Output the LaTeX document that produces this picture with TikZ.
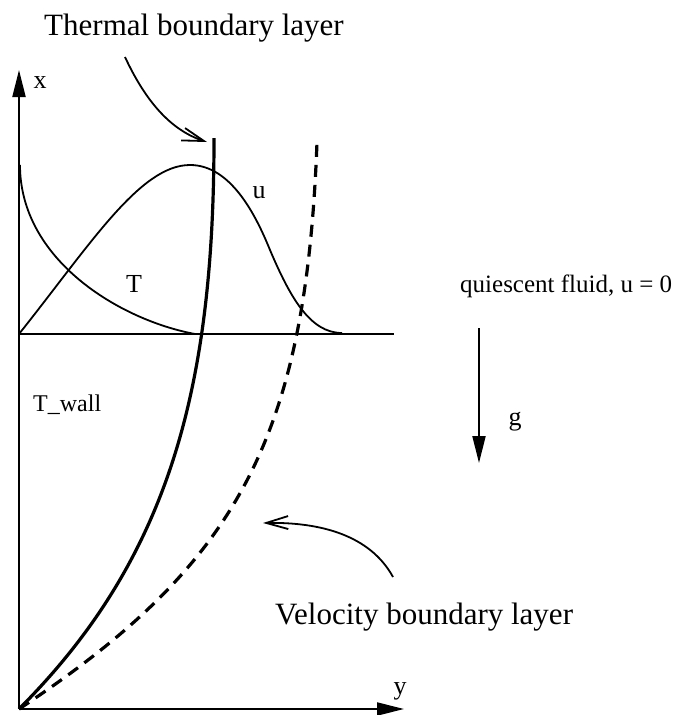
\documentclass[tikz,border=0pt]{standalone}
\usepackage{fontspec}
\setmainfont{Liberation Serif}
\usetikzlibrary{arrows.meta}
\begin{document}
\begin{tikzpicture}[x=1pt,y=-1pt,
  axis/.style={line width=2pt,-{Triangle[length=27pt,width=13pt]}},
  thin curve/.style={line width=1.8pt},
  layer/.style={line width=3.2pt},
  pointer/.style={line width=1.8pt,-{Straight Barb[length=22pt,width=13pt]}},
  big/.style={font=\fontsize{31}{37}\selectfont,inner sep=0pt},
  lab/.style={font=\fontsize{26}{31}\selectfont,inner sep=0pt}]
\useasboundingbox (0,0) rectangle (676,715);
% coordinates
\coordinate (O) at (19,709);
\coordinate (xtip) at (19,70);
\coordinate (ytip) at (404,709);
\coordinate (hl) at (19,334);
\coordinate (hr) at (394,334);
\coordinate (gtop) at (479,328);
\coordinate (gtip) at (479,463);
\coordinate (tbs) at (125,57);
\coordinate (tbe) at (207,142);
\coordinate (vbs) at (393,577);
\coordinate (vbe) at (263,523);
\coordinate (ttop) at (214,138);
\coordinate (vtop) at (317,142);
% axes
\draw[axis] (O) -- (xtip);
\draw[axis] (O) -- (ytip);
\draw[line width=2pt] (hl) -- (hr);
\draw[axis] (gtop) -- (gtip);
% T profile
\draw[thin curve] (20,165) .. controls (20,260) and (120,320) .. (195,334);
% u profile
\draw[thin curve] (19,334) .. controls (90,245) and (140,165) .. (190,165)
  .. controls (230,165) and (255,213) .. (270,250)
  .. controls (290,297) and (310,333) .. (342,333);
% thermal boundary layer
\draw[layer] (O) .. controls (169,559) and (214,388) .. (ttop);
% velocity boundary layer
\draw[layer,dash pattern=on 12pt off 8pt] (O) .. controls (235,566) and (306,442) .. (vtop);
% pointers
\draw[pointer] (tbs) .. controls (145,100) and (170,130) .. (tbe);
\draw[pointer] (vbs) .. controls (370,535) and (320,522) .. (vbe);
% labels
\node[big,anchor=base] (tbl) at (194,35) {Thermal boundary layer};
\node[big,anchor=base west] (vbl) at (275,624) {Velocity boundary layer};
\node[lab,anchor=base] (xl) at (40,88) {x};
\node[lab,anchor=base] (yl) at (400,694) {y};
\node[lab,anchor=base] (ul) at (259,198) {u};
\node[lab,anchor=base] (Tl) at (134,292) {T};
\node[lab,anchor=base] (gl) at (515,425) {g};
\node[font=\fontsize{24}{29}\selectfont,inner sep=0pt,anchor=base west] (tw) at (33,411) {T\_wall};
\node[font=\fontsize{25}{30}\selectfont,inner sep=0pt,anchor=base west] (qf) at (460,292) {quiescent fluid, u = 0};
\end{tikzpicture}
\end{document}
